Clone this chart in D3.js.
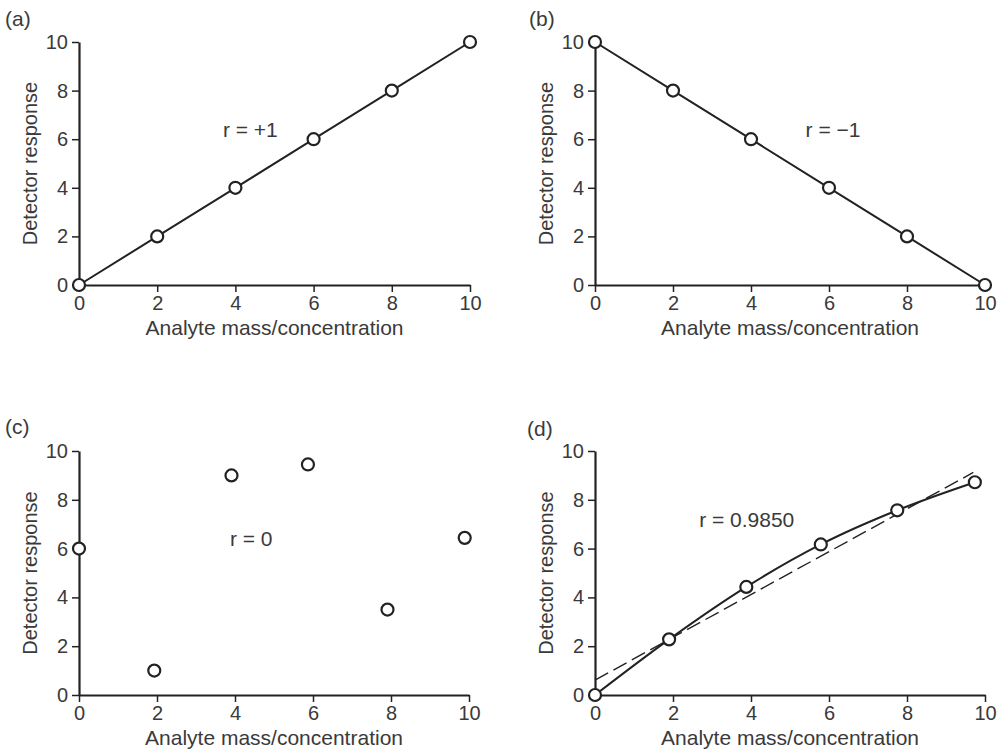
<!DOCTYPE html>
<html>
<head>
<meta charset="utf-8">
<script src="https://cdn.jsdelivr.net/npm/d3@7"></script>
<style>
  html, body { margin: 0; padding: 0; background: #fff; }
  svg { display: block; }
  text { font-family: "Liberation Sans", Arial, Helvetica, sans-serif; fill: #3a3a3a; }
</style>
</head>
<body>
<svg id="chart" width="998" height="750"></svg>
<script>
// ---------- data ----------
const xTicks = [0, 2, 4, 6, 8, 10];
const yTicks = [0, 2, 4, 6, 8, 10];
const xTitle = "Analyte mass/concentration";
const yTitle = "Detector response";
const panelLabels = ["(a)", "(b)", "(c)", "(d)"];
const rLabels = ["r = +1", "r = \u22121", "r = 0", "r = 0.9850"];

const aX = [0, 2, 4, 6, 8, 10];
const aY = [0, 2, 4, 6, 8, 10];
const bX = [0, 2, 4, 6, 8, 10];
const bY = [10, 8, 6, 4, 2, 0];
const cX = [0, 1.93, 3.91, 5.87, 7.91, 9.89];
const cY = [6.0, 1.0, 9.0, 9.45, 3.5, 6.44];
const dX = [0, 1.9, 3.88, 5.79, 7.75, 9.74];
const dY = [0, 2.28, 4.43, 6.17, 7.57, 8.72];
const fitX = [0, 9.7];
const fitY = [0.61, 9.12];

// ---------- layout ----------
const panels = [
  { x0: 79, x1: 470, yb: 285, yt: 42, label: [5, 26], r: [3.68, 6.1], xs: aX, ys: aY, line: true },
  { x0: 595, x1: 985, yb: 285, yt: 42, label: [529, 26], r: [5.4, 6.1], xs: bX, ys: bY, line: true },
  { x0: 79, x1: 469, yb: 695, yt: 451, label: [5, 434], r: [3.87, 6.1], xs: cX, ys: cY, line: false },
  { x0: 595, x1: 985, yb: 695, yt: 451, label: [527, 436], r: [2.67, 6.9], xs: dX, ys: dY, line: true, curve: true, fit: true }
];

const ink = "#222";
const svg = d3.select("#chart");

panels.forEach((p, i) => {
  const x = d3.scaleLinear().domain([0, 10]).range([p.x0, p.x1]);
  const y = d3.scaleLinear().domain([0, 10]).range([p.yb, p.yt]);
  const g = svg.append("g");

  // panel label
  g.append("text").attr("x", p.label[0]).attr("y", p.label[1])
    .attr("font-size", 21).text(panelLabels[i]);

  // axes
  const xa = g.append("g").attr("transform", `translate(0,${p.yb})`)
    .call(d3.axisBottom(x).tickValues(xTicks).tickSize(7).tickSizeOuter(0).tickPadding(4).tickFormat(d3.format("d")));
  const ya = g.append("g").attr("transform", `translate(${p.x0},0)`)
    .call(d3.axisLeft(y).tickValues(yTicks).tickSize(7).tickSizeOuter(0).tickPadding(4).tickFormat(d3.format("d")));
  [xa, ya].forEach(a => {
    a.select(".domain").attr("stroke", ink).attr("stroke-width", 2.2);
    a.selectAll(".tick line").attr("stroke", ink).attr("stroke-width", 1.5);
    a.selectAll(".tick text").attr("font-size", 20).attr("fill", "#3a3a3a")
      .attr("font-family", "Liberation Sans, Arial, sans-serif");
  });

  // axis titles
  g.append("text").attr("x", (p.x0 + p.x1) / 2).attr("y", p.yb + 50)
    .attr("text-anchor", "middle").attr("font-size", 21).text(xTitle);
  g.append("text")
    .attr("transform", `translate(${p.x0 - 42},${(p.yb + p.yt) / 2}) rotate(-90)`)
    .attr("text-anchor", "middle").attr("font-size", 20).text(yTitle);

  const pts = p.xs.map((v, k) => [v, p.ys[k]]);

  // fit line (dashed)
  if (p.fit) {
    const fpts = fitX.map((v, k) => [v, fitY[k]]);
    g.append("path").datum(fpts)
      .attr("d", d3.line().x(d => x(d[0])).y(d => y(d[1])))
      .attr("fill", "none").attr("stroke", ink).attr("stroke-width", 1.4)
      .attr("stroke-dasharray", "15,6");
  }

  // connecting line
  if (p.line) {
    const ln = d3.line().x(d => x(d[0])).y(d => y(d[1]));
    if (p.curve) ln.curve(d3.curveMonotoneX);
    g.append("path").datum(pts).attr("d", ln)
      .attr("fill", "none").attr("stroke", ink).attr("stroke-width", 2);
  }

  // points
  g.selectAll("circle.pt").data(pts).join("circle").attr("class", "pt")
    .attr("cx", d => x(d[0])).attr("cy", d => y(d[1])).attr("r", 6)
    .attr("fill", "#fff").attr("stroke", ink).attr("stroke-width", 2.2);

  // r annotation
  g.append("text").attr("x", x(p.r[0])).attr("y", y(p.r[1]))
    .attr("font-size", 21).text(rLabels[i]);
});
</script>
</body>
</html>
